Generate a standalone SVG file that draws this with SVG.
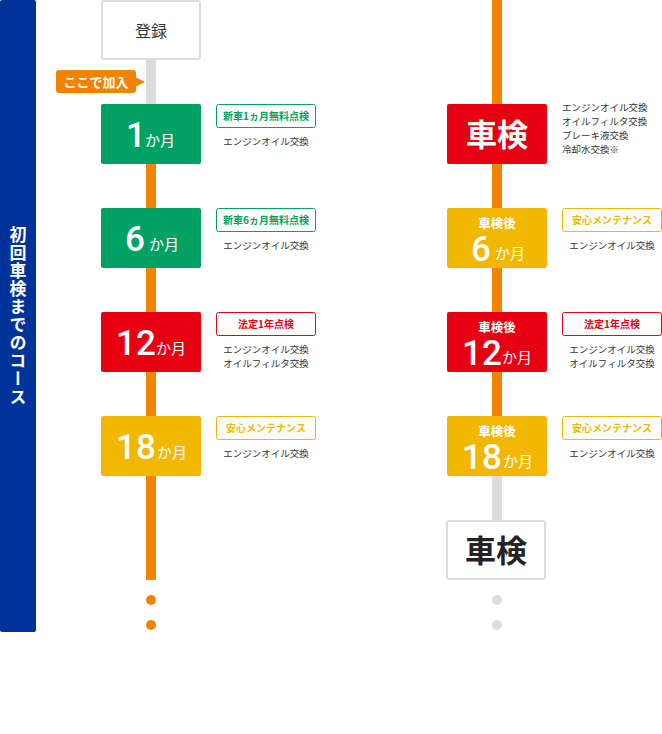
<svg xmlns="http://www.w3.org/2000/svg" width="662" height="734" viewBox="0 0 662 734">
<style>
text{font-family:"Noto Sans CJK JP","Liberation Sans",sans-serif}
.w{fill:#fff;font-weight:bold}
.num{font-family:Roboto,"Liberation Sans",sans-serif;fill:#fff;font-weight:500;font-size:35px}
.km{fill:#fff;font-size:15px}
.sub{font-size:9.5px;fill:#333;text-anchor:middle}
.lab{font-size:10px;font-weight:bold;text-anchor:middle}
.ka{font-size:12.5px}
.lbox{fill:#fff;stroke-width:1}
.g{fill:#00a263}.r{fill:#e60012}.y{fill:#f2b700}
</style>
<rect x="0" y="0" width="36" height="632" rx="2" fill="#003399"/>
<text x="18" y="226" class="w" font-size="17" style="writing-mode:vertical-rl;letter-spacing:1px" text-anchor="start">初回車検までのコース</text>
<g id="connectors">
<rect x="146" y="60" width="10" height="44" fill="#dddddd"/>
<rect x="146" y="164" width="10" height="416" fill="#f08300"/>
<rect x="492" y="0" width="10" height="416" fill="#f08300"/>
<rect x="492" y="476" width="10" height="44" fill="#dddddd"/>
<circle cx="151" cy="600" r="5" fill="#f08300"/>
<circle cx="151" cy="625" r="5" fill="#f08300"/>
<circle cx="497" cy="600" r="5" fill="#dddddd"/>
<circle cx="497" cy="625" r="5" fill="#dddddd"/>
</g>
<g id="reg">
<rect x="102" y="1" width="98" height="58" rx="2" fill="#fff" stroke="#dddddd" stroke-width="2"/>
<text x="151" y="37" font-size="16" fill="#333" text-anchor="middle">登録</text>
</g>
<g id="join">
<rect x="56" y="70" width="80" height="23" rx="3" fill="#f08300"/>
<polygon points="135,77 145,82 135,87" fill="#f08300"/>
<text x="96" y="87" class="w" font-size="13" text-anchor="middle">ここで加入</text>
</g>
<g id="m1">
<rect x="101" y="104" width="100" height="60" rx="2" class="g"/>
<text x="126" y="147" class="num">1</text>
<text x="145" y="146" class="km">か月</text>
<rect x="216.5" y="104.5" width="99" height="23" rx="2" class="lbox" stroke="#00a263"/>
<text x="266" y="120" class="lab" fill="#00a263">新車1ヵ月無料点検</text>
<text x="266" y="145" class="sub">エンジンオイル交換</text>
</g>
<g id="m6">
<rect x="101" y="208" width="100" height="60" rx="2" class="g"/>
<text x="125" y="251" class="num">6</text>
<text x="149" y="250" class="km">か月</text>
<rect x="216.5" y="208.5" width="99" height="23" rx="2" class="lbox" stroke="#00a263"/>
<text x="266" y="224" class="lab" fill="#00a263">新車6ヵ月無料点検</text>
<text x="266" y="249" class="sub">エンジンオイル交換</text>
</g>
<g id="m12">
<rect x="101" y="312" width="100" height="60" rx="2" class="r"/>
<text x="116" y="355" class="num">12</text>
<text x="156" y="354" class="km">か月</text>
<rect x="216.5" y="312.5" width="99" height="23" rx="2" class="lbox" stroke="#e60012"/>
<text x="266" y="328" class="lab" fill="#e60012">法定1年点検</text>
<text x="266" y="353" class="sub">エンジンオイル交換</text>
<text x="266" y="367" class="sub">オイルフィルタ交換</text>
</g>
<g id="m18">
<rect x="101" y="416" width="100" height="60" rx="2" class="y"/>
<text x="116" y="459" class="num">18</text>
<text x="157" y="458" class="km">か月</text>
<rect x="216.5" y="416.5" width="99" height="23" rx="2" class="lbox" stroke="#f2b700"/>
<text x="266" y="432" class="lab" fill="#f2b700">安心メンテナンス</text>
<text x="266" y="457" class="sub">エンジンオイル交換</text>
</g>
<g id="shaken1">
<rect x="447" y="104" width="100" height="60" rx="2" class="r"/>
<text x="497" y="146" class="w" font-size="31" text-anchor="middle">車検</text>
<text x="562" y="111" font-size="9.5" fill="#333">エンジンオイル交換</text>
<text x="562" y="125" font-size="9.5" fill="#333">オイルフィルタ交換</text>
<text x="562" y="139" font-size="9.5" fill="#333">ブレーキ液交換</text>
<text x="562" y="153" font-size="9.5" fill="#333">冷却水交換※</text>
</g>
<g id="a6">
<rect x="447" y="208" width="100" height="60" rx="2" class="y"/>
<text x="497" y="228" class="w ka" text-anchor="middle">車検後</text>
<text x="471" y="261" class="num">6</text>
<text x="495" y="259" class="km">か月</text>
<rect x="562.5" y="208.5" width="99" height="23" rx="2" class="lbox" stroke="#f2b700"/>
<text x="612" y="224" class="lab" fill="#f2b700">安心メンテナンス</text>
<text x="612" y="249" class="sub">エンジンオイル交換</text>
</g>
<g id="a12">
<rect x="447" y="312" width="100" height="60" rx="2" class="r"/>
<text x="497" y="332" class="w ka" text-anchor="middle">車検後</text>
<text x="462" y="365" class="num">12</text>
<text x="502" y="363" class="km">か月</text>
<rect x="562.5" y="312.5" width="99" height="23" rx="2" class="lbox" stroke="#e60012"/>
<text x="612" y="328" class="lab" fill="#e60012">法定1年点検</text>
<text x="612" y="353" class="sub">エンジンオイル交換</text>
<text x="612" y="367" class="sub">オイルフィルタ交換</text>
</g>
<g id="a18">
<rect x="447" y="416" width="100" height="60" rx="2" class="y"/>
<text x="497" y="436" class="w ka" text-anchor="middle">車検後</text>
<text x="462" y="469" class="num">18</text>
<text x="503" y="467" class="km">か月</text>
<rect x="562.5" y="416.5" width="99" height="23" rx="2" class="lbox" stroke="#f2b700"/>
<text x="612" y="432" class="lab" fill="#f2b700">安心メンテナンス</text>
<text x="612" y="457" class="sub">エンジンオイル交換</text>
</g>
<g id="shaken2">
<rect x="447" y="521" width="98" height="58" rx="2" fill="#fff" stroke="#dddddd" stroke-width="2"/>
<text x="496" y="562" font-size="31" font-weight="bold" fill="#222" text-anchor="middle">車検</text>
</g>
</svg>
